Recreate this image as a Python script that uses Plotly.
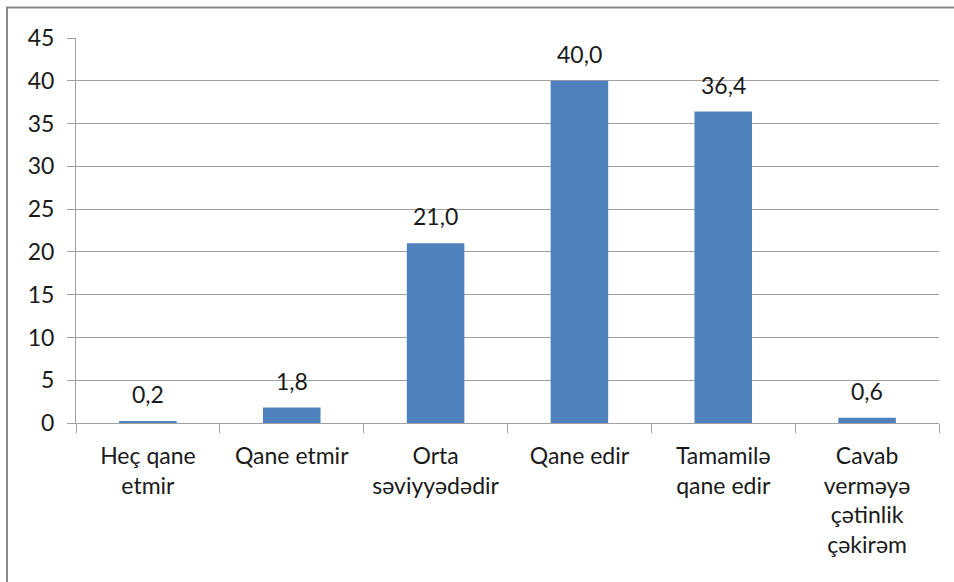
import plotly.graph_objects as go

categories = ["Heç qane<br>etmir", "Qane etmir", "Orta<br>səviyyədədir", "Qane edir",
              "Tamamilə<br>qane edir", "Cavab<br>verməyə<br>çətinlik<br>çəkirəm"]
values = [0.2, 1.8, 21.0, 40.0, 36.4, 0.6]
y_ticks = [0, 5, 10, 15, 20, 25, 30, 35, 40, 45]

labels = [f"{v:.1f}".replace(".", ",") for v in values]
FONT = "Lato"
FS = 23

fig = go.Figure()
fig.add_trace(go.Bar(x=categories, y=values, marker=dict(color="#4F81BD", line=dict(width=0)),
                     hoverinfo="skip"))

for c, v, t in zip(categories, values, labels):
    fig.add_annotation(x=c, y=v, text=t, showarrow=False, yanchor="bottom", yshift=11,
                       font=dict(family=FONT, size=FS, color="#1a1a1a"))

W, H = 954, 582
L, R, T, B = 76, 15, 37.5, 159
pw, ph = W - L - R, H - T - B
def px(x):
    return (x - L) / pw
def py(y):
    return (H - B - y) / ph

fig.add_shape(type="rect", xref="paper", yref="paper",
              x0=px(7), x1=px(970), y0=py(600), y1=py(7),
              line=dict(color="#898989", width=2), fillcolor="rgba(0,0,0,0)", layer="below")

fig.update_layout(
    width=W, height=H,
    margin=dict(l=L, r=R, t=T, b=B, pad=0),
    paper_bgcolor="white", plot_bgcolor="white",
    bargap=0.6, showlegend=False,
    font=dict(family=FONT, size=FS, color="#1a1a1a"),
    xaxis=dict(showline=True, linecolor="#a0a0a0", linewidth=1, ticks="outside", ticklen=9,
               tickcolor="#a0a0a0", tickson="boundaries", showgrid=False, ticklabelstandoff=12,
               tickfont=dict(family=FONT, size=FS, color="#1a1a1a")),
    yaxis=dict(range=[0, 45], tickvals=y_ticks, showline=True, linecolor="#a0a0a0", linewidth=1,
               ticks="outside", ticklen=8, tickcolor="#a0a0a0", showgrid=True,
               gridcolor="#a0a0a0", gridwidth=1, zeroline=False, ticklabelstandoff=8,
               tickfont=dict(family=FONT, size=FS, color="#1a1a1a")),
)

fig.write_html("out.html")
